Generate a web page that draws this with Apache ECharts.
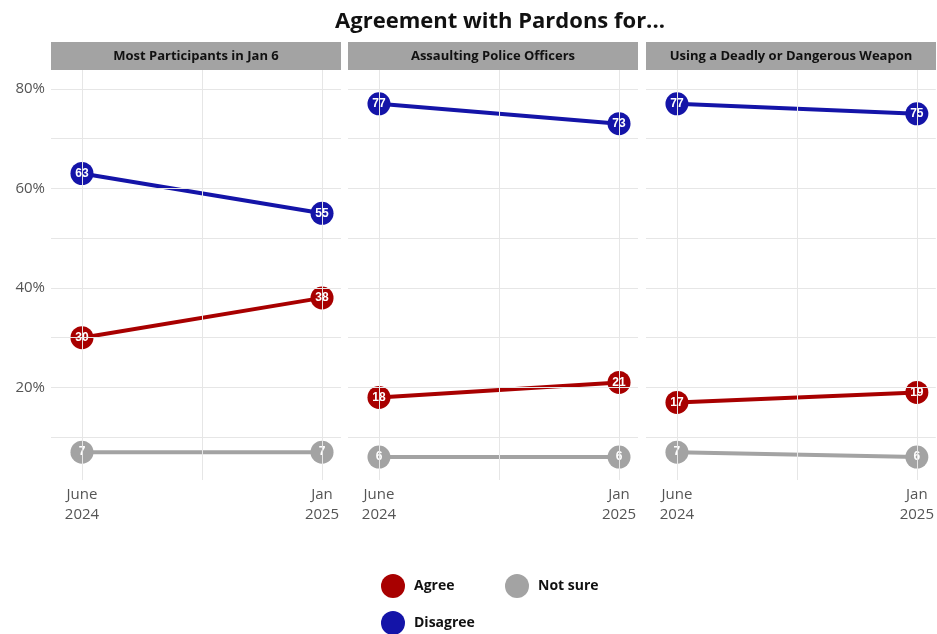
<!DOCTYPE html>
<html>
<head>
<meta charset="utf-8">
<script src="https://cdn.jsdelivr.net/npm/echarts@6/dist/echarts.min.js"></script>
<style>
  html, body { margin: 0; padding: 0; background: #fff; }
  #chart { width: 937px; height: 634px; }
</style>
</head>
<body>
<div id="chart"></div>
<script>
// Survey waves shown on the x axis
const periods = ['June\n2024', 'Jan\n2025'];
// Facet titles
const panels = ['Most Participants in Jan 6', 'Assaulting Police Officers', 'Using a Deadly or Dangerous Weapon'];
// Percentages per facet, [June 2024, Jan 2025]
const agree = [[30, 38], [18, 21], [17, 19]];
const disagree = [[63, 55], [77, 73], [77, 75]];
const notSure = [[7, 7], [6, 6], [7, 6]];
// Y axis labels and grid lines
const yTicks = [20, 40, 60, 80];
const yGrid = [10, 20, 30, 40, 50, 60, 70, 80];
const xGrid = [0, 0.5, 1];

const FONT = '"Open Sans", Lato, sans-serif';
const COLORS = { 'Agree': '#a80000', 'Disagree': '#1414a8', 'Not sure': '#a3a3a3' };

const panelLeft = [51, 348, 646];
const panelWidth = 290;
const gridTop = 70;
const gridHeight = 410;

const grids = [], xAxes = [], yAxes = [], series = [], graphics = [];

panels.forEach((title, i) => {
  grids.push({ left: panelLeft[i], top: gridTop, width: panelWidth, height: gridHeight, containLabel: false });
  xAxes.push({
    type: 'value', gridIndex: i, min: -0.129, max: 1.079,
    axisLine: { show: false }, axisTick: { show: false }, splitLine: { show: false },
    axisLabel: {
      customValues: [0, 1],
      formatter: v => periods[Math.round(v)] || '',
      color: '#555', fontFamily: FONT, fontSize: 15, lineHeight: 20, margin: 5
    }
  });
  yAxes.push({
    type: 'value', gridIndex: i, min: 1.4, max: 83.8,
    axisLine: { show: false }, axisTick: { show: false }, splitLine: { show: false },
    axisLabel: {
      show: i === 0,
      customValues: yTicks,
      formatter: v => v + '%',
      color: '#555', fontFamily: FONT, fontSize: 15, margin: 6
    }
  });

  // Panel grid lines
  series.push({
    type: 'line', xAxisIndex: i, yAxisIndex: i, data: [], silent: true, z: 0,
    markLine: {
      silent: true, symbol: 'none', label: { show: false },
      lineStyle: { color: '#e6e6e6', type: 'solid', width: 1 },
      animation: false,
      data: yGrid.map(v => ({ yAxis: v })).concat(xGrid.map(v => ({ xAxis: v })))
    }
  });

  const groups = [['Not sure', notSure[i]], ['Agree', agree[i]], ['Disagree', disagree[i]]];
  groups.forEach(([name, vals]) => {
    series.push({
      name, type: 'line', xAxisIndex: i, yAxisIndex: i, z: 3,
      data: vals.map((v, k) => [k, v]),
      color: COLORS[name],
      lineStyle: { width: 4, color: COLORS[name] },
      symbol: 'circle', symbolSize: 23,
      itemStyle: { color: COLORS[name] },
      label: {
        show: true, position: 'inside',
        formatter: p => p.value[1],
        color: '#fff', fontWeight: 'bold', fontSize: 12,
        fontFamily: '"Liberation Sans", Arial, sans-serif'
      },
      animation: false
    });
  });

  // Facet strip
  graphics.push({
    type: 'rect', shape: { x: panelLeft[i], y: 42, width: panelWidth, height: 28 },
    style: { fill: '#a3a3a3' }, silent: true
  });
  graphics.push({
    type: 'text', x: panelLeft[i] + panelWidth / 2, y: 56,
    style: { text: title, fill: '#111', font: 'bold 13px ' + FONT, textAlign: 'center', textVerticalAlign: 'middle' },
    silent: true
  });
});

const legendCommon = {
  icon: 'circle', itemWidth: 24, itemHeight: 24, orient: 'vertical', itemGap: 13,
  height: 80, padding: 0,
  textStyle: { fontFamily: FONT, fontSize: 14, fontWeight: 'bold', color: '#111', padding: [0, 0, 0, 4] },
  selectedMode: false
};

const chart = echarts.init(document.getElementById('chart'));
chart.setOption({
  backgroundColor: '#fff',
  animation: false,
  title: {
    text: 'Agreement with Pardons for...', left: 495, top: 6, textAlign: 'center',
    textStyle: { fontFamily: FONT, fontSize: 22, fontWeight: 'bold', color: '#111' }
  },
  legend: [
    Object.assign({ left: 381, top: 574, data: ['Agree', 'Disagree'] }, legendCommon),
    Object.assign({ left: 505, top: 574, data: ['Not sure'] }, legendCommon)
  ],
  grid: grids,
  xAxis: xAxes,
  yAxis: yAxes,
  series,
  graphic: graphics
});
</script>
</body>
</html>
